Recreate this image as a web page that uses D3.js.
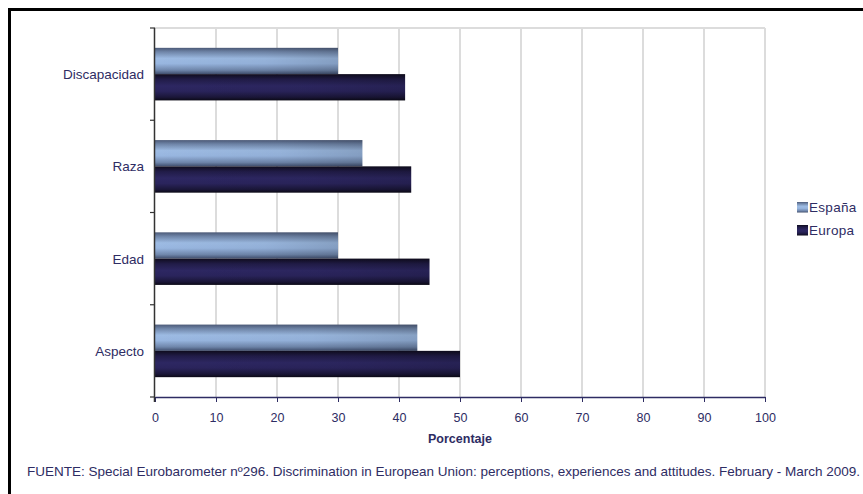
<!DOCTYPE html>
<html>
<head>
<meta charset="utf-8">
<script src="https://cdn.jsdelivr.net/npm/d3@7"></script>
<style>
  html, body { margin: 0; padding: 0; background: #fff; }
  svg { display: block; }
  text { font-family: "Liberation Sans", Arial, Helvetica, sans-serif; fill: #2e2c63; }
</style>
</head>
<body>
<svg id="chart" width="863" height="494"></svg>
<script>
// Discrimination perceived as widespread, by ground (percent)
const categories = ["Discapacidad", "Raza", "Edad", "Aspecto"];
const seriesNames = ["España", "Europa"];
const espana = [30, 34, 30, 43];
const europa = [41, 42, 45, 50];
const xTicks = [0, 10, 20, 30, 40, 50, 60, 70, 80, 90, 100];
const xTitle = "Porcentaje";
const source = "FUENTE: Special Eurobarometer nº296. Discrimination in European Union: perceptions, experiences and attitudes. February - March 2009.";

const rows = categories.map((c, i) => ({ cat: c, values: [espana[i], europa[i]] }));

const svg = d3.select("#chart");
const plot = { left: 155, right: 765, top: 28, bottom: 397 };

// gradients for the two series
const defs = svg.append("defs");
const gEsp = defs.append("linearGradient").attr("id", "gEsp")
  .attr("x1", 0).attr("y1", 0).attr("x2", 0).attr("y2", 1);
[[0, "#4c5a78"], [0.15, "#6f85a8"], [0.4, "#9dbbe3"], [0.6, "#98b6e0"], [0.85, "#6f86ab"], [1, "#3f4d6c"]]
  .forEach(([o, c]) => gEsp.append("stop").attr("offset", o).attr("stop-color", c));
const gEur = defs.append("linearGradient").attr("id", "gEur")
  .attr("x1", 0).attr("y1", 0).attr("x2", 0).attr("y2", 1);
[[0, "#0f0c1e"], [0.2, "#211c48"], [0.45, "#2d2762"], [0.65, "#2a245c"], [0.88, "#1a1638"], [1, "#0b0916"]]
  .forEach(([o, c]) => gEur.append("stop").attr("offset", o).attr("stop-color", c));
// subtle darkening toward the end of each bar
const gShade = defs.append("linearGradient").attr("id", "gShade")
  .attr("x1", 0).attr("y1", 0).attr("x2", 1).attr("y2", 0);
[[0, "#000", 0], [0.6, "#000", 0.04], [1, "#000", 0.14]]
  .forEach(([o, c, a]) => gShade.append("stop").attr("offset", o).attr("stop-color", c).attr("stop-opacity", a));
const fills = ["url(#gEsp)", "url(#gEur)"];

// outer frame (runs past the right and bottom edges)
svg.append("rect").attr("x", 9.5).attr("y", 9.5).attr("width", 870).attr("height", 500)
  .attr("fill", "none").attr("stroke", "#000").attr("stroke-width", 3);

const x = d3.scaleLinear().domain([0, 100]).range([plot.left, plot.right]);
const y = d3.scaleBand().domain(categories).range([plot.top, plot.bottom]).padding(0);
const ySub = d3.scaleBand().domain(seriesNames)
  .range([y.bandwidth() * 0.215, y.bandwidth() * 0.785]).padding(0);

// gridlines and plot border
svg.append("g").selectAll("line").data(xTicks.filter(t => t > 0)).join("line")
  .attr("x1", d => x(d)).attr("x2", d => x(d))
  .attr("y1", plot.top).attr("y2", plot.bottom)
  .attr("stroke", "#dcdcdc").attr("stroke-width", 2);
svg.append("line").attr("x1", plot.left).attr("x2", plot.right)
  .attr("y1", plot.top).attr("y2", plot.top)
  .attr("stroke", "#dcdcdc").attr("stroke-width", 2);

// bars
const groups = svg.append("g").selectAll("g").data(rows).join("g")
  .attr("transform", d => `translate(0,${y(d.cat)})`);
groups.selectAll("rect.bar").data(d => d.values.map((v, i) => ({ v, s: seriesNames[i], i })))
  .join("rect").attr("class", "bar")
  .attr("x", x(0)).attr("y", d => ySub(d.s))
  .attr("width", d => x(d.v) - x(0)).attr("height", ySub.bandwidth())
  .attr("fill", d => fills[d.i]);
groups.selectAll("rect.shade").data(d => d.values.map((v, i) => ({ v, s: seriesNames[i] })))
  .join("rect").attr("class", "shade")
  .attr("x", x(0)).attr("y", d => ySub(d.s))
  .attr("width", d => x(d.v) - x(0)).attr("height", ySub.bandwidth())
  .attr("fill", "url(#gShade)");

// x axis
const xAxis = svg.append("g").attr("transform", `translate(0,${plot.bottom})`)
  .call(d3.axisBottom(x).tickValues(xTicks).tickSize(5).tickPadding(11).tickSizeOuter(0));
xAxis.select(".domain").attr("stroke", "#2e2c63").attr("stroke-width", 1.5);
xAxis.selectAll(".tick line").attr("stroke", "#2e2c63");
xAxis.selectAll("text").attr("font-size", 12.5).attr("fill", "#2e2c63")
  .attr("font-family", "'Liberation Sans', Arial, sans-serif");

// y axis: ticks at band boundaries
svg.append("line").attr("x1", plot.left - 0.5).attr("x2", plot.left - 0.5)
  .attr("y1", plot.top).attr("y2", plot.bottom + 5)
  .attr("stroke", "#333").attr("stroke-width", 1.5);
const bounds = categories.map(c => y(c)).concat([plot.bottom]);
svg.append("g").selectAll("line").data(bounds).join("line")
  .attr("x1", plot.left - 5).attr("x2", plot.left)
  .attr("y1", d => d).attr("y2", d => d)
  .attr("stroke", "#333").attr("stroke-width", 1.2);
svg.append("g").selectAll("text").data(categories).join("text")
  .attr("x", plot.left - 11).attr("y", d => y(d) + y.bandwidth() / 2 + 5)
  .attr("text-anchor", "end").attr("font-size", 13.5).text(d => d);

// axis title
svg.append("text").attr("x", (plot.left + plot.right) / 2).attr("y", 443)
  .attr("text-anchor", "middle").attr("font-size", 12.5).attr("font-weight", "bold").text(xTitle);

// legend
const legend = svg.append("g").attr("transform", "translate(797,202)");
seriesNames.forEach((s, i) => {
  legend.append("rect").attr("x", 0).attr("y", i * 23).attr("width", 11).attr("height", 10.5)
    .attr("fill", fills[i]);
  legend.append("text").attr("x", 12).attr("y", i * 23 + 10)
    .attr("font-size", 13.5).attr("letter-spacing", 0.3).text(s);
});

// source note
svg.append("text").attr("x", 27).attr("y", 476).attr("font-size", 13.5)
  .attr("textLength", 833).attr("lengthAdjust", "spacingAndGlyphs").text(source);
</script>
</body>
</html>
